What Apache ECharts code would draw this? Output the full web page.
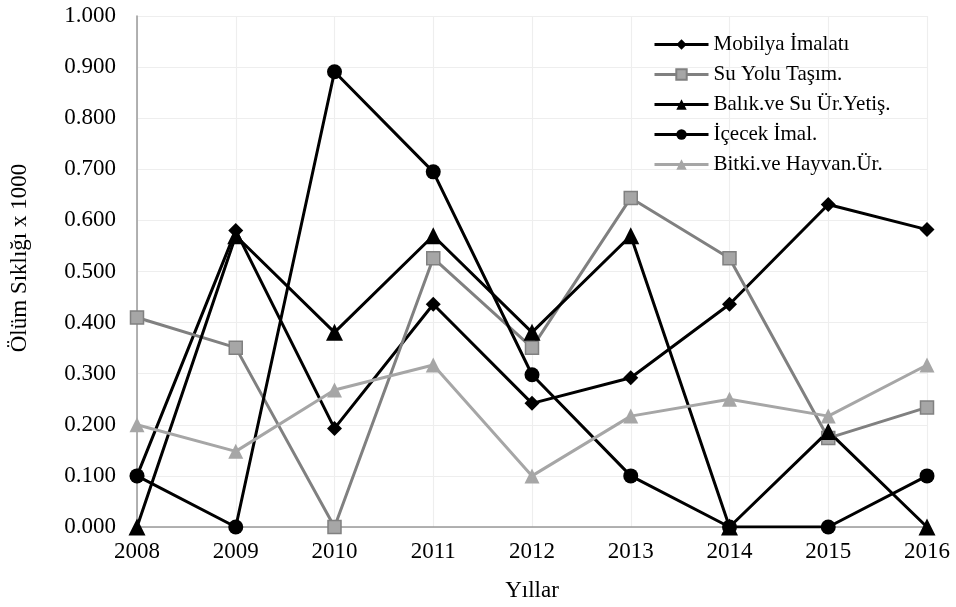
<!DOCTYPE html>
<html><head><meta charset="utf-8">
<script src="https://cdn.jsdelivr.net/npm/echarts@6/dist/echarts.min.js"></script>
<style>html,body{margin:0;padding:0;background:#fff}#c{width:956px;height:607px}</style>
</head><body><div id="c"></div>
<script>
const years = ['2008','2009','2010','2011','2012','2013','2014','2015','2016'];
const mobilya = [0.100, 0.580, 0.193, 0.436, 0.242, 0.292, 0.436, 0.631, 0.582];
const suYolu = [0.410, 0.351, 0.000, 0.526, 0.351, 0.644, 0.526, 0.174, 0.234];
const balik = [0.000, 0.570, 0.381, 0.570, 0.381, 0.570, 0.000, 0.187, 0.000];
const icecek = [0.100, 0.000, 0.891, 0.695, 0.298, 0.100, 0.000, 0.000, 0.100];
const bitki = [0.200, 0.148, 0.268, 0.317, 0.100, 0.217, 0.250, 0.217, 0.317];
const names = ['Mobilya İmalatı','Su Yolu Taşım.','Balık.ve Su Ür.Yetiş.','İçecek İmal.','Bitki.ve Hayvan.Ür.'];

const font = 'Liberation Serif';
const chart = echarts.init(document.getElementById('c'));
function mk(name, data, color, symbol, size, fill, border) {
  return {
    name, type: 'line', data, symbol, symbolSize: size,
    lineStyle: {color, width: 3},
    itemStyle: {color: fill || color, borderColor: border || color, borderWidth: border ? 1.5 : 0},
    emphasis: {disabled: true}, animation: false
  };
}
chart.setOption({
  backgroundColor: '#fff',
  textStyle: {fontFamily: font},
  grid: {left: 126, right: 29, top: 16, bottom: 76},
  legend: {
    orient: 'vertical', left: 648, top: 29, itemWidth: 54, itemHeight: 13, itemGap: 9,
    textStyle: {fontFamily: font, fontSize: 21, color: '#000'},
    lineStyle: {width: 3},
    data: names
  },
  xAxis: {
    type: 'category', data: years, boundaryGap: false,
    name: 'Yıllar', nameLocation: 'middle', nameGap: 52,
    nameTextStyle: {fontFamily: font, fontSize: 23, color: '#000'},
    axisLine: {lineStyle: {color: '#999999', width: 1.5}},
    axisTick: {show: false},
    axisLabel: {fontFamily: font, fontSize: 23, color: '#000', margin: 13},
    splitLine: {show: true, lineStyle: {color: '#eeeeee', width: 1.2}}
  },
  yAxis: {
    type: 'value', min: 0, max: 1, interval: 0.1,
    name: 'Ölüm Sıklığı x 1000', nameLocation: 'middle', nameGap: 106, nameRotate: 90,
    nameTextStyle: {fontFamily: font, fontSize: 23, color: '#000', padding: [0, 0, 0, 27]},
    axisLine: {show: true, lineStyle: {color: '#999999', width: 1.5}},
    axisTick: {show: false},
    axisLabel: {fontFamily: font, fontSize: 23, color: '#000', margin: 21, formatter: v => v.toFixed(3)},
    splitLine: {show: true, lineStyle: {color: '#eeeeee', width: 1.2}}
  },
  series: [
    mk(names[0], mobilya, '#000', 'diamond', 15),
    mk(names[1], suYolu, '#808080', 'rect', 13, '#a6a6a6', '#808080'),
    mk(names[2], balik, '#000', 'triangle', 17),
    mk(names[3], icecek, '#000', 'circle', 15),
    mk(names[4], bitki, '#a6a6a6', 'triangle', 15)
  ]
});
</script></body></html>
